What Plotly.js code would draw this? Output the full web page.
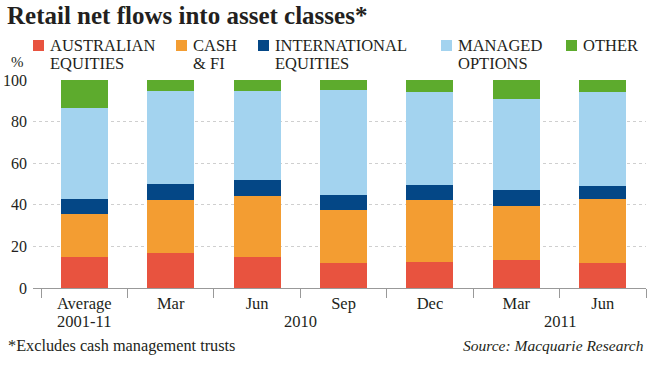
<!DOCTYPE html>
<html>
<head>
<meta charset="utf-8">
<script src="https://cdn.plot.ly/plotly-3.0.1.min.js"></script>
<style>html,body{margin:0;padding:0;background:#fff;}#chart{width:650px;height:366px;}</style>
</head>
<body>
<div id="chart"></div>
<script>
// ---- Data ----
const categories = ["Average 2001-11", "Mar 2010", "Jun 2010", "Sep 2010", "Dec 2010", "Mar 2011", "Jun 2011"];
const tickLabels = ["Average", "Mar", "Jun", "Sep", "Dec", "Mar", "Jun"];
const groupLabels = ["2001-11", "2010", "2011"];
const groupCenters = [0, 2.5, 5.5];

const seriesNames = ["AUSTRALIAN<br>EQUITIES", "CASH<br>& FI", "INTERNATIONAL<br>EQUITIES", "MANAGED<br>OPTIONS", "OTHER"];
const australianEquities = [15.0, 17.0, 15.0, 11.8, 12.5, 13.3, 12.1];
const cashFI = [20.5, 25.2, 29.3, 25.8, 29.7, 26.2, 30.9];
const internationalEquities = [7.4, 7.7, 7.4, 7.0, 7.4, 7.4, 6.1];
const managedOptions = [43.5, 44.8, 43.2, 50.8, 44.5, 43.8, 45.0];
const other = [13.6, 5.3, 5.1, 4.6, 5.9, 9.3, 5.9];

const seriesValues = [australianEquities, cashFI, internationalEquities, managedOptions, other];
const colors = ["#e8533f", "#f39d32", "#044786", "#a3d3ef", "#5dab2d"];

const serif = "Liberation Serif, Times New Roman, serif";
const textColor = "#231f20";

const traces = seriesValues.map((vals, i) => ({
  type: "bar",
  name: seriesNames[i],
  x: categories,
  y: vals,
  width: 0.545,
  marker: {color: colors[i], line: {width: 0}},
  hoverinfo: "skip",
  showlegend: false
}));

// ---- Layout ----
const plotTop = 80, plotBottom = 288, plotH = plotBottom - plotTop;
const pyOf = (px) => (plotBottom - px) / plotH; // paper y from pixel
const pxOf = (px) => (px - 33) / (646 - 33);   // paper x from pixel

const annotations = [];
const shapes = [];

// Legend (manual)
const legendX = [33, 176, 258, 441, 566];
seriesNames.forEach((name, i) => {
  shapes.push({
    type: "rect", xref: "paper", yref: "paper",
    x0: pxOf(legendX[i]), x1: pxOf(legendX[i] + 11),
    y0: pyOf(51), y1: pyOf(40),
    fillcolor: colors[i], line: {width: 0}
  });
  name.split("<br>").forEach((line, j) => {
    annotations.push({
      xref: "paper", yref: "paper",
      x: pxOf(legendX[i] + 15), y: pyOf(46 + j * 17),
      xanchor: "left", yanchor: "middle",
      text: line, showarrow: false,
      font: {family: serif, size: 16.5, color: textColor}
    });
  });
});

// Group (year) labels
groupLabels.forEach((g, i) => {
  annotations.push({
    xref: "x", yref: "paper",
    x: groupCenters[i], y: pyOf(321),
    xanchor: "center", yanchor: "middle",
    text: g, showarrow: false,
    font: {family: serif, size: 16.5, color: textColor}
  });
});

// % unit
annotations.push({
  xref: "paper", yref: "paper", x: pxOf(17), y: pyOf(62),
  xanchor: "center", yanchor: "middle", text: "%", showarrow: false,
  font: {family: serif, size: 15, color: textColor}
});

// Footer
annotations.push({
  xref: "paper", yref: "paper", x: pxOf(6), y: pyOf(345),
  xanchor: "left", yanchor: "middle", text: "*Excludes cash management trusts", showarrow: false,
  font: {family: serif, size: 16.3, color: textColor}
});
annotations.push({
  xref: "paper", yref: "paper", x: pxOf(646), y: pyOf(345),
  xanchor: "right", yanchor: "middle", text: "<i>Source: Macquarie Research</i>", showarrow: false,
  font: {family: serif, size: 15.5, color: textColor}
});

const layout = {
  width: 650, height: 366,
  margin: {l: 33, r: 4, t: plotTop, b: 366 - plotBottom, pad: 0},
  paper_bgcolor: "#fff", plot_bgcolor: "#fff",
  barmode: "stack",
  showlegend: false,
  title: {
    text: "<b>Retail net flows into asset classes*</b>",
    x: 7 / 650, xanchor: "left", xref: "container",
    y: 1 - 15 / 366, yanchor: "middle", yref: "container",
    font: {family: serif, size: 25, color: textColor}
  },
  xaxis: {
    type: "category",
    range: [-0.593, 6.5],
    tickmode: "array",
    tickvals: categories,
    ticktext: tickLabels,
    tickson: "boundaries",
    ticks: "outside", ticklen: 9, tickcolor: "#999", tickwidth: 1,
    showline: true, linecolor: "#999", linewidth: 1,
    showgrid: false, zeroline: false,
    tickfont: {family: serif, size: 16.5, color: textColor},
    fixedrange: true
  },
  yaxis: {
    range: [0, 100],
    tickvals: [0, 20, 40, 60, 80, 100],
    ticks: "", ticklabelstandoff: 5,
    showgrid: true, gridcolor: "#cfcfcf", griddash: "dot", gridwidth: 1,
    zeroline: false, showline: false,
    tickfont: {family: serif, size: 16, color: textColor},
    fixedrange: true
  },
  annotations: annotations,
  shapes: shapes
};

Plotly.newPlot("chart", traces, layout, {displayModeBar: false, staticPlot: true});
</script>
</body>
</html>
